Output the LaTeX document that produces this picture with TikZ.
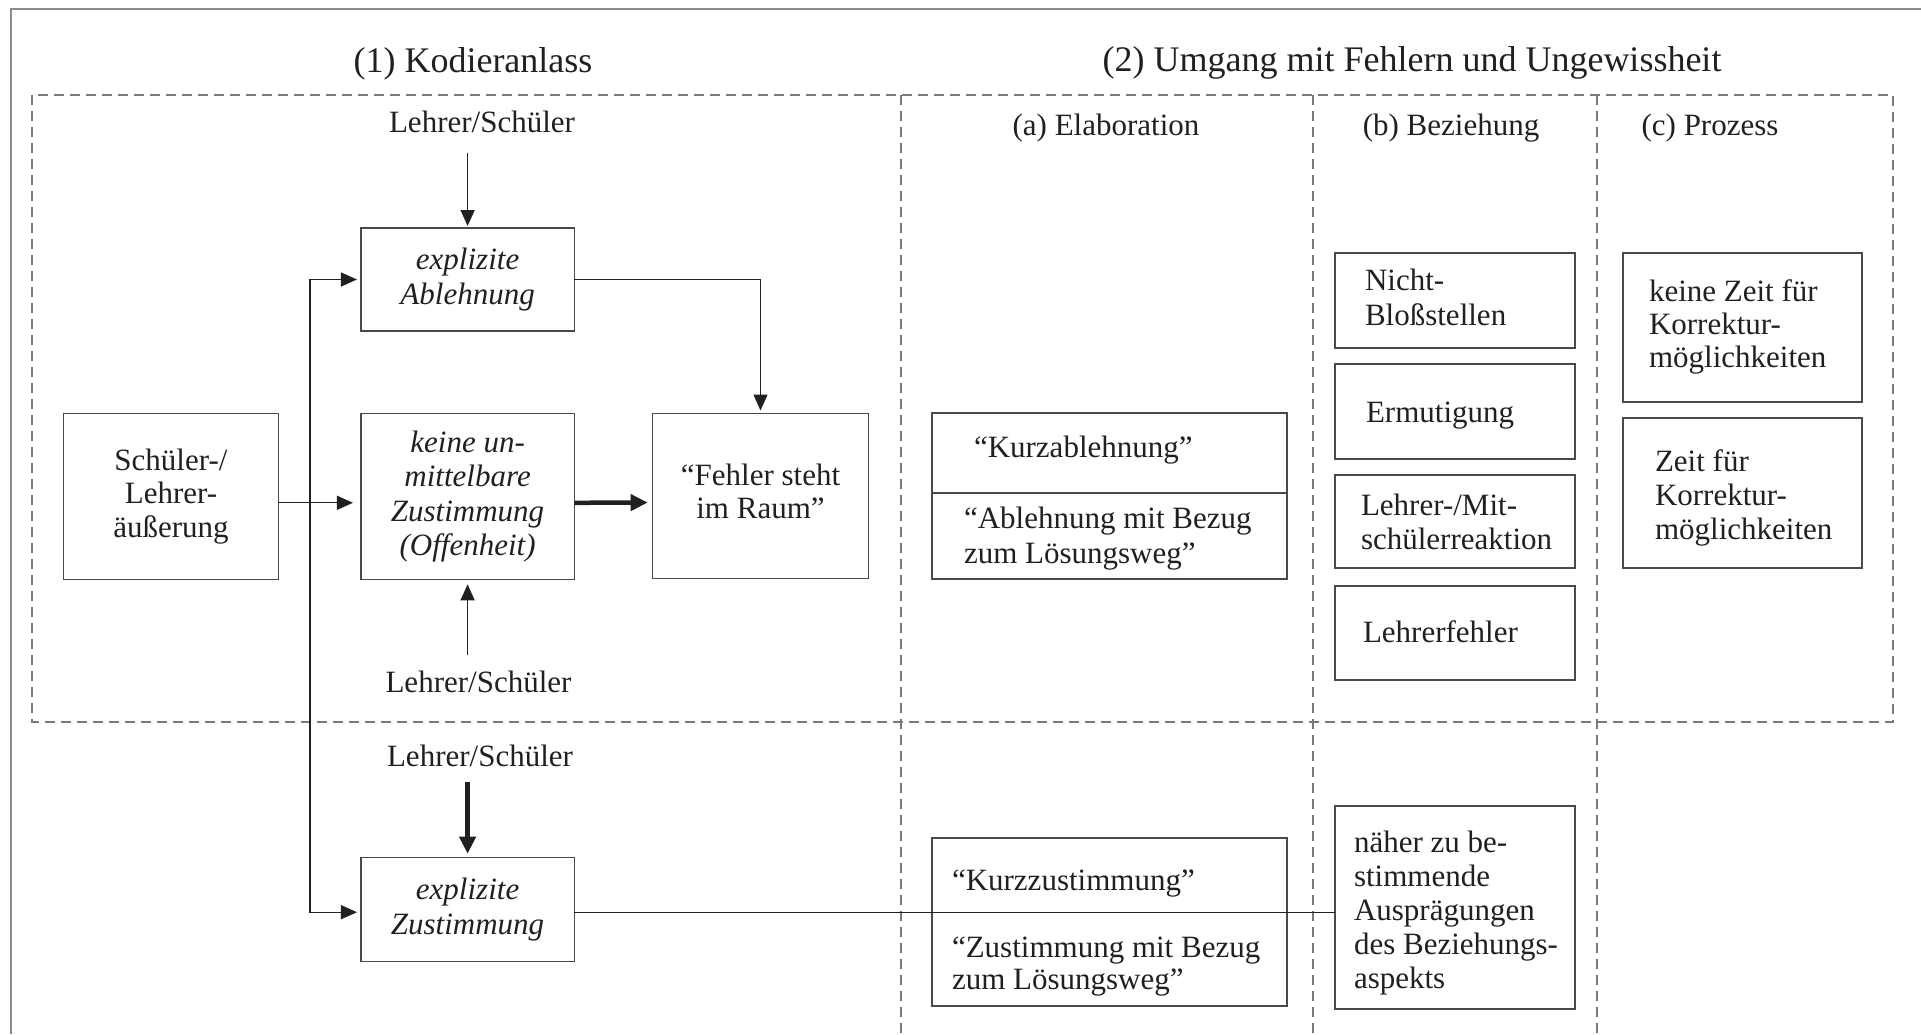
\documentclass[tikz,border=0pt]{standalone}
\usepackage{fontspec}
\setmainfont{Liberation Serif}
\usetikzlibrary{arrows.meta,calc}
\definecolor{ink}{HTML}{231F20}
\definecolor{boxc}{HTML}{4A4A4A}
\definecolor{framec}{HTML}{8C8C8C}
\definecolor{dashc}{HTML}{7A7A7A}
\begin{document}
\begin{tikzpicture}[x=1pt,y=-1pt,
  every node/.style={text=ink, inner sep=0pt, outer sep=0pt},
  bodyfont/.style={font=\fontsize{31}{33}\selectfont},
  titlefont/.style={font=\fontsize{36}{40}\selectfont},
  box/.style={draw=boxc, line width=1.4pt, bodyfont, align=center},
  itbox/.style={box, font=\fontsize{31}{34}\selectfont\itshape},
  txt/.style={bodyfont, align=left, anchor=base west},
  lbl/.style={bodyfont, anchor=base},
  conn/.style={draw=ink, line width=1.3pt},
  arr/.style={conn, -{Triangle[length=16pt,width=14pt]}, shorten >=4pt},
  thickarr/.style={draw=ink, line width=4.5pt, -{Triangle[length=17pt,width=16pt]}, shorten >=4pt},
  dashline/.style={draw=dashc, line width=1.4pt, dash pattern=on 10pt off 6pt},
]
\useasboundingbox (0,0) rectangle (1921,1034);

% outer frame
\draw[framec, line width=2pt] (11,1034) -- (11,9) -- (1921,9);

% dashed areas
\draw[dashline] (32,95) rectangle (1893,722);
\draw[dashline] (901,95) -- (901,1034);
\draw[dashline] (1313,95) -- (1313,1034);
\draw[dashline] (1597,95) -- (1597,1034);

% titles
\node[titlefont, anchor=base] (t1) at (473,72) {(1) Kodieranlass};
\node[titlefont, anchor=base] (t2) at (1412,71) {(2) Umgang mit Fehlern und Ungewissheit};
\node[lbl] (ha) at (1106,135) {(a) Elaboration};
\node[lbl] (hb) at (1451,135) {(b) Beziehung};
\node[lbl] (hc) at (1710,135) {(c) Prozess};

% left part
\node[lbl] (ls1) at (482,132) {Lehrer/Schüler};
\node[lbl] (ls2) at (478.5,692) {Lehrer/Schüler};
\node[lbl] (ls3) at (480,766) {Lehrer/Schüler};

\node[itbox, minimum width=213.3pt, minimum height=103pt, font=\fontsize{31}{35}\selectfont\itshape] (ablehnung) at (467.6,279.5) {explizite\\Ablehnung};
\node[box, minimum width=215.4pt, minimum height=166pt, font=\fontsize{31}{33.5}\selectfont] (schueler) at (171,496.3) {Schüler-/\\Lehrer-\\äußerung};
\node[itbox, minimum width=213.3pt, minimum height=166pt, font=\fontsize{31}{34.5}\selectfont\itshape] (keine) at (467.6,496.3) {keine un-\\mittelbare\\Zustimmung\\(Offenheit)};
\node[box, minimum width=215.6pt, minimum height=165pt, font=\fontsize{31}{32.3}\selectfont] (fehler) at (760.5,496) {“Fehler steht\\im Raum”\strut};
\node[itbox, minimum width=213.3pt, minimum height=104pt, font=\fontsize{31}{35}\selectfont\itshape] (zustimmung) at (467.6,909.7) {explizite\\Zustimmung};

% (a) Elaboration  (base anchor = last line's baseline)
\node[box, minimum width=355pt, minimum height=80pt] (kurzab) at (1109.5,453) {};
\node[box, minimum width=355pt, minimum height=86pt] (kurzabb) at (1109.5,536) {};
\node[txt] (kurzab-t) at (974,457) {“Kurzablehnung”};
\node[txt, font=\fontsize{31}{35}\selectfont] (kurzabb-t) at (964,563) {“Ablehnung mit Bezug\\zum Lösungsweg”};
\node[box, minimum width=355pt, minimum height=168pt] (kurzzu) at (1109.5,922) {};
\node[txt, font=\fontsize{31}{32}\selectfont] (kurzzu-t) at (952,989) {“Kurzzustimmung”\\[35pt]“Zustimmung mit Bezug\\zum Lösungsweg”};

% (b) Beziehung
\node[box, minimum width=240pt, minimum height=95pt] (nicht) at (1455,300.5) {};
\node[txt, font=\fontsize{31}{35}\selectfont] (nicht-t) at (1365,325) {Nicht-\\Bloßstellen};
\node[box, minimum width=240pt, minimum height=95pt] (ermut) at (1455,411.5) {};
\node[txt] (ermut-t) at (1366,422) {Ermutigung};
\node[box, minimum width=240pt, minimum height=93pt] (mit) at (1455,521.5) {};
\node[txt, font=\fontsize{31}{34}\selectfont] (mit-t) at (1361,549) {Lehrer-/Mit-\\schülerreaktion};
\node[box, minimum width=240pt, minimum height=94pt] (lfehler) at (1455,633) {};
\node[txt] (lfehler-t) at (1363,642) {Lehrerfehler};
\node[box, minimum width=240pt, minimum height=203pt] (naeher) at (1455,907.5) {};
\node[txt, font=\fontsize{31}{34}\selectfont] (naeher-t) at (1354,988) {näher zu be-\\stimmende\\Ausprägungen\\des Beziehungs-\\aspekts};

% (c) Prozess
\node[box, minimum width=239pt, minimum height=149pt] (keinezeit) at (1742.5,327.5) {};
\node[txt] (keinezeit-t) at (1649,367) {keine Zeit für\\Korrektur-\\möglichkeiten};
\node[box, minimum width=239pt, minimum height=150pt] (zeitfuer) at (1742.5,493) {};
\node[txt, font=\fontsize{31}{34}\selectfont] (zeitfuer-t) at (1655,539) {Zeit für\\Korrektur-\\möglichkeiten};

% connectors
\coordinate (s1) at (467.6,153);
\coordinate (s2) at (467.6,655);
\coordinate (s3) at (467.6,782);
\coordinate (j) at (310,503);
\draw[arr, shorten >=2pt] (s1) -- (ablehnung.north);
\draw[arr, shorten >=5pt] (s2) -- (keine.south);
\draw[thickarr] (s3) -- (zustimmung.north);
\draw[arr, shorten >=8pt] ([yshift=-6.5pt]schueler.east) -- ([yshift=-6.5pt]keine.west);
\draw[arr] (j) |- (ablehnung.west);
\draw[arr] (j) |- ([yshift=-2.5pt]zustimmung.west);
\draw[thickarr, shorten >=5pt] ([yshift=-6.5pt]keine.east) -- ([yshift=-6.5pt]fehler.west);
\draw[arr, shorten >=3pt] (ablehnung.east) -| (fehler.north);
\draw[conn] ([yshift=-2.5pt]zustimmung.east) -- ([yshift=-2.5pt]zustimmung.east -| naeher.west);
\end{tikzpicture}
\end{document}
